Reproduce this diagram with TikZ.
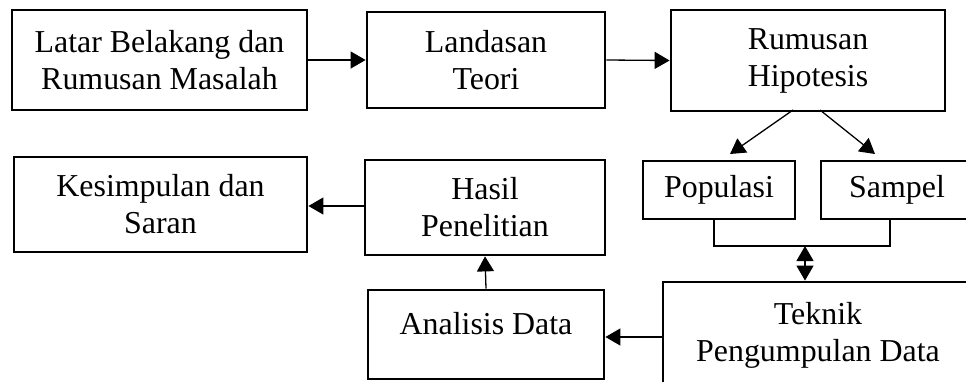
\documentclass[tikz,border=0pt]{standalone}
\usepackage{fontspec}
\setmainfont{Liberation Serif}
\usetikzlibrary{arrows.meta,calc}
\begin{document}
\begin{tikzpicture}[x=1pt,y=-1pt,
  boxnode/.style={draw=black, line width=2.8pt, rectangle, align=center, inner sep=0pt, font=\fontsize{31.9}{37}\selectfont},
  txtnode/.style={align=center, inner sep=0pt, font=\fontsize{31.9}{37}\selectfont},
  arr/.style={line width=1.3pt, -{Triangle[length=15pt,width=17pt]}},
  dblarr/.style={line width=1.3pt, {Triangle[length=15pt,width=17pt]}-{Triangle[length=15pt,width=17pt]}},
  plain/.style={line width=1.3pt}]
\useasboundingbox (0,0) rectangle (966,381);
\clip (0,0) rectangle (966,381);
\node[boxnode, minimum width=295pt, minimum height=100pt] (latar) at (159.5,60) {Latar Belakang dan\\Rumusan Masalah};
\node[boxnode, minimum width=238pt, minimum height=96pt] (landasan) at (486,60) {Landasan\\Teori};
\node[boxnode, minimum width=274pt, minimum height=101pt] (rumusan) at (808,60.5) {Rumusan\\Hipotesis};
\node[boxnode, minimum width=152pt, minimum height=58pt] (pop) at (719,190) {Populasi};
\node[boxnode, minimum width=152pt, minimum height=58pt] (sampel) at (897,190) {Sampel};
\node[boxnode, minimum width=293pt, minimum height=95pt] (kesimpulan) at (160.5,204.5) {Kesimpulan dan\\Saran};
\node[boxnode, minimum width=240pt, minimum height=95pt] (hasil) at (485,207.5) {Hasil\\Penelitian};
\node[boxnode, minimum width=236pt, minimum height=89pt] (analisis) at (486,334.5) {};
\node[txtnode] (analisisT) at (486,324) {Analisis Data};
\node[boxnode, minimum width=310pt, minimum height=106pt] (teknik) at (818,335) {Teknik\\Pengumpulan Data};
% connectors
\draw[arr] (latar.east) -- (landasan.west);
\draw[arr] (landasan.east) -- (rumusan.west);
\coordinate (r1) at (793,110);
\coordinate (r2) at (820,110);
\coordinate (p1) at (730,154);
\coordinate (s1) at (875,154);
\draw[arr] (r1) -- (p1);
\draw[arr] (r2) -- (s1);
\coordinate (b1) at (714,246);
\coordinate (b2) at (890,246);
\draw[plain] (pop.south -| b1) -- (b1) -- (b2) -- (sampel.south -| b2);
\coordinate (d1) at (805,246);
\draw[dblarr] (d1) -- (teknik.north -| d1);
\coordinate (ta) at (0,337);
\draw[arr] (teknik.west |- ta) -- (analisis.east |- ta);
\draw[arr] (analisis.north) -- (hasil.south);
\coordinate (ha) at (0,206);
\draw[arr] (hasil.west |- ha) -- (kesimpulan.east |- ha);
\end{tikzpicture}
\end{document}
